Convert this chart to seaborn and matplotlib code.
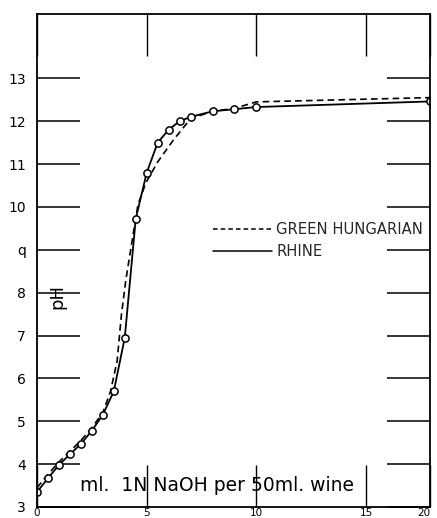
import numpy as np
import pandas as pd
import matplotlib
matplotlib.use("Agg")
import matplotlib.pyplot as plt
from matplotlib.lines import Line2D
import seaborn as sns

# ---- data ----
rhine_x = [0, 0.5, 1.0, 1.5, 2.0, 2.5, 3.0, 3.5, 4.0, 4.5, 5.0, 5.5, 6.0, 6.5, 7.0, 8.0, 9.0, 10.0, 20.0]
rhine_ph = [3.35, 3.67, 3.98, 4.23, 4.47, 4.78, 5.15, 5.7, 6.95, 9.72, 10.8, 11.5, 11.8, 12.0, 12.1, 12.23, 12.28, 12.33, 12.46]

hung_x = [0, 0.5, 1.0, 1.5, 2.0, 2.5, 3.0, 3.35, 3.65, 3.85, 4.05, 4.3, 4.6, 4.95, 5.5, 6.2, 7.0, 8.0, 9.0, 10.0, 20.0]
hung_ph = [3.45, 3.76, 4.05, 4.3, 4.55, 4.85, 5.2, 5.7, 6.4, 7.5, 8.3, 9.1, 10.05, 10.55, 11.05, 11.55, 12.06, 12.23, 12.3, 12.45, 12.55]

x_ticks = [0, 5, 10, 15, 20]
x_ticklabels = ["0", "5", "10", "15", "20"]
y_ticks = [3, 4, 5, 6, 7, 8, 9, 10, 11, 12, 13]
y_ticklabels = ["3", "4", "5", "6", "7", "8", "q", "10", "11", "12", "13"]

legend_labels = ["GREEN HUNGARIAN", "RHINE"]
x_title = "ml.  1N NaOH per 50ml. wine"
y_title = "pH"

sns.set_style("ticks")
plt.rcParams["font.family"] = ["DejaVu Sans"]

fig = plt.figure(figsize=(4.37, 5.18), dpi=100)
ax = fig.add_axes([37 / 437, 11 / 518, 393 / 437, 493 / 518])

# compressed x-axis beyond 15 as in the reference
k = 64 / 110.0
def fwd(x):
    x = np.asarray(x, dtype=float)
    return np.where(x <= 15, x, 15 + (x - 15) * k)
def inv(x):
    x = np.asarray(x, dtype=float)
    return np.where(x <= 15, x, 15 + (x - 15) / k)
ax.set_xscale("function", functions=(fwd, inv))

df_h = pd.DataFrame({"x": hung_x, "ph": hung_ph})
df_r = pd.DataFrame({"x": rhine_x, "ph": rhine_ph})

sns.lineplot(data=df_h, x="x", y="ph", ax=ax, color="black", linewidth=1.2,
             linestyle=(0, (4, 2.5)), sort=False)
sns.lineplot(data=df_r, x="x", y="ph", ax=ax, color="black", linewidth=1.3,
             marker="o", markersize=5.2, markerfacecolor="white",
             markeredgecolor="black", markeredgewidth=1.1, sort=False)

ax.set_xlim(0, 20)
ax.set_ylim(3, 14.5)
ax.set_xticks(x_ticks)
ax.set_xticklabels(x_ticklabels)
ax.set_yticks(y_ticks)
ax.set_yticklabels(y_ticklabels)
ax.set_xlabel("")
ax.set_ylabel("")

for s in ax.spines.values():
    s.set_visible(True)
    s.set_linewidth(1.3)
    s.set_color("black")

ax.tick_params(axis="y", direction="in", length=31, width=1.1, left=True, right=True,
               labelsize=10, pad=8, colors="black")
ax.tick_params(axis="x", direction="in", length=30, width=1.0, top=True, bottom=True,
               labelsize=7.5, pad=0.5, colors="black")
for lbl in ax.get_xticklabels():
    lbl.set_verticalalignment("top")
ax.get_xticklabels()[-1].set_horizontalalignment("right")

ax.text(0.11, 0.043, x_title, transform=ax.transAxes, fontsize=13.5,
        ha="left", va="center", color="black")
ax.text(0.052, 0.427, y_title, transform=ax.transAxes, fontsize=13,
        rotation=90, ha="center", va="center", color="black")

handles = [Line2D([], [], color="black", linestyle=(0, (3, 2)), linewidth=1.1),
           Line2D([], [], color="black", linestyle="-", linewidth=1.1)]
ax.legend(handles, legend_labels, loc="upper left",
          bbox_to_anchor=(213 / 437, (518 - 222) / 518), bbox_transform=fig.transFigure,
          frameon=False, fontsize=10.6, handlelength=4.0, handletextpad=0.3,
          labelspacing=0.5, borderpad=0, borderaxespad=0)

fig.savefig("out.png", dpi=100)
